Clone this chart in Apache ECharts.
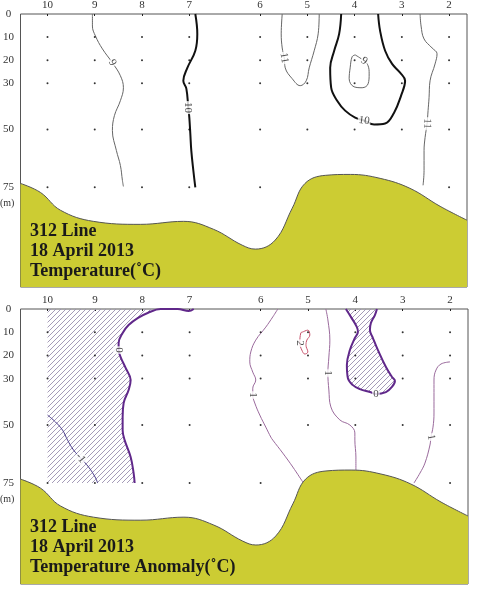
<!DOCTYPE html>
<html><head><meta charset="utf-8">
<script src="https://cdn.jsdelivr.net/npm/echarts@6/dist/echarts.min.js"></script>
<style>html,body{margin:0;padding:0;background:#fff}#c{width:484px;height:601px}</style>
</head><body><div id="c"></div>
<script>
// ---------- data ----------
const stationNames = ['10','9','8','7','6','5','4','3','2'];
const stationX = [0,1,2,3,4.5,5.5,6.5,7.5,8.5];
const depthTicks = [0,10,20,30,50,75];
const sampleDepths = [10,20,30,50,75];
const sampleMaxDepth = [75,75,75,75,75,50,50,50,75];

// bottom topography [distance, depth m]
const seabed = [[-0.571,73.3],[-0.148,77.2],[0.275,84.9],[0.97,89.7],[1.97,91],[2.88,89.7],[3.51,93.1],[4.12,100],[4.40,101.7],[4.82,97.8],[5.18,84],[5.45,73.3],[5.88,69.8],[6.41,69.4],[7.04,71.1],[7.67,75.4],[8.31,83.2],[8.879,89.2]];

// temperature contours
const temp9West = [[0.951,0],[0.951,5.2],[1.015,9.5],[1.163,15.1],[1.374,21.1],[1.543,26.7],[1.607,31.9],[1.543,37.5],[1.416,44.0],[1.374,50.4],[1.459,59.1],[1.543,65.5],[1.586,72.0],[1.607,74.6]];
const temp10West = [[3.129,0],[3.171,8.6],[3.129,15.9],[2.960,23.3],[2.875,28.9],[2.939,32.3],[2.981,40.5],[3.002,44.8],[3.023,51.7],[3.044,59.1],[3.087,67.7],[3.129,75.0]];
const temp11Mid = [[4.968,0],[4.947,8.6],[4.968,14.7],[5.011,19.0],[5.032,23.3],[5.180,28.0],[5.349,31.0],[5.476,28.9],[5.539,23.3],[5.645,15.9],[5.729,8.6],[5.751,0]];
const temp10East = [[6.216,0],[6.173,8.6],[6.068,15.9],[5.983,23.3],[6.004,31.9],[6.131,37.5],[6.300,41.8],[6.512,44.8],[6.702,46.1],[6.913,47.8],[7.146,47.4],[7.336,42.7],[7.484,35.3],[7.569,28.9],[7.463,25.4],[7.294,21.6],[7.146,15.9],[7.040,7.3],[6.998,0]];
const temp9Core = [[6.512,17.7],[6.702,20.3],[6.786,22.4],[6.808,25.9],[6.786,30.2],[6.660,31.9],[6.490,31.5],[6.385,28.0],[6.406,23.3],[6.448,18.5],[6.512,17.7]];
const temp11East = [[7.886,0],[7.907,5.2],[7.970,10.8],[8.140,14.7],[8.245,17.2],[8.203,21.6],[8.097,28.9],[8.076,36.2],[8.055,41.8],[8.034,47.4],[7.992,53.4],[7.970,59.1],[7.970,67.7],[7.949,74.1]];
const tempLabels = [
  ['9',1.374,21.1,-60],['10',2.981,40.5,-90],['11',5.011,19.0,-80],
  ['9',6.702,20.3,-35],['10',6.702,46.1,-8],['11',8.034,47.4,-92]
];

// anomaly contours
const anom0West = [[3.087,0],[2.981,0.9],[2.748,0],[2.389,0],[2.114,1.7],[1.903,3.9],[1.712,6.9],[1.586,10.3],[1.501,14.7],[1.501,17.7],[1.543,20.7],[1.649,25.4],[1.755,30.6],[1.712,34.9],[1.607,40.5],[1.586,46.6],[1.586,52.2],[1.628,56.5],[1.755,63.8],[1.818,70.7],[1.839,75.0]];
const anomM1 = [[0,45.7],[0.169,48.7],[0.317,52.2],[0.423,56.5],[0.550,60.8],[0.698,64.2],[0.867,68.1],[1.015,72.8],[1.057,75.0]];
const anom0East = [[6.300,0],[6.406,3.4],[6.533,7.8],[6.554,9.9],[6.490,12.5],[6.385,17.7],[6.321,24.1],[6.342,29.7],[6.448,32.8],[6.596,34.5],[6.808,35.8],[6.934,36.6],[7.146,35.8],[7.273,33.6],[7.336,31.0],[7.273,29.3],[7.146,25.0],[6.977,17.7],[6.871,12.5],[6.808,9.1],[6.829,6.0],[6.913,2.6],[6.956,0]];
const anom1West = [[4.863,0],[4.757,3.4],[4.609,7.8],[4.397,13.4],[4.292,18.5],[4.271,22.8],[4.334,27.2],[4.397,30.6],[4.334,34.1],[4.334,37.1],[4.376,40.5],[4.482,45.7],[4.609,50.9],[4.715,55.2],[4.757,56.5],[4.968,62.1],[5.180,68.1],[5.391,74.6]];
const anom1Mid = [[5.877,0],[5.920,4.7],[5.962,13.4],[5.941,20.7],[5.920,27.6],[5.941,34.9],[5.983,42.2],[6.173,47.8],[6.385,50.0],[6.490,53.4],[6.490,56.5],[6.512,63.8],[6.512,69.4]];
const anom1East = [[8.499,22.8],[8.309,23.7],[8.203,26.3],[8.161,30.6],[8.161,37.9],[8.161,44.8],[8.140,50.9],[8.097,55.2],[8.076,58.6],[7.970,66.4],[7.865,70.7],[7.738,75.0]];
const anom2 = [[5.391,9.9],[5.497,9.1],[5.539,11.2],[5.476,13.4],[5.455,15.5],[5.497,18.5],[5.433,19.4],[5.370,17.7],[5.328,14.7],[5.349,10.3],[5.391,9.9]];
const anomLabels = [
  ['0',1.501,17.7,-90],['-1',0.698,64.2,-50],['2',5.328,14.7,-90],
  ['1',5.920,27.6,-90],['1',4.334,37.1,-90],['0',6.934,36.6,0],['1',8.097,55.2,-80]
];
const titleLines = ['312 Line','18 April 2013'];
const panelTitles = ['Temperature(˚C)','Temperature Anomaly(˚C)'];

// ---------- chart ----------
const serif = '"Liberation Serif","Times New Roman",serif';
const pat = document.createElement('canvas');
pat.width = 5; pat.height = 5;
(function(){const g=pat.getContext('2d');g.strokeStyle='#9b90b0';g.lineWidth=0.9;g.beginPath();
g.moveTo(0,5);g.lineTo(5,0);g.moveTo(-1,1);g.lineTo(1,-1);g.moveTo(4,6);g.lineTo(6,4);g.stroke();})();
const hatchFill = {image: pat, repeat: 'repeat'};

const westHatch = [[0,0]].concat(anom0West.slice(3)).concat([[0,75]]);
const eastHatch = anom0East;

const dots = [];
stationX.forEach((x,i)=>sampleDepths.forEach(d=>{ if(d<=sampleMaxDepth[i]) dots.push([x,d]); }));

const grids = [
  {left:20, right:17, top:13, height:274, show:true, borderColor:'#555', borderWidth:1, backgroundColor:'#fff'},
  {left:20, right:16, top:309, height:275, show:true, borderColor:'#555', borderWidth:1, backgroundColor:'#fff'}
];
function xAx(i){return {type:'value', gridIndex:i, position:'top', min:-0.571, max:8.879,
  axisLine:{show:false}, splitLine:{show:false},
  axisTick:{show:true, inside:true, length:2, customValues:stationX, lineStyle:{color:'#222'}},
  axisLabel:{customValues:stationX, margin:3, fontFamily:serif, fontSize:11, color:'#333',
    formatter:v=>{const k=stationX.findIndex(s=>Math.abs(s-v)<1e-6);return k>=0?stationNames[k]:'';}}};}
function yAx(i,max){return {type:'value', gridIndex:i, inverse:true, min:0, max:max,
  axisLine:{show:false}, splitLine:{show:false}, axisTick:{show:false},
  axisLabel:{customValues:depthTicks, margin:12, align:'center', fontFamily:serif, fontSize:11, color:'#333'}};}

function line(data, gi, color, w, z){return {type:'line', xAxisIndex:gi, yAxisIndex:gi, data, smooth:0.4,
  symbol:'none', lineStyle:{color, width:w}, z:z||3, silent:true, clip:true};}
function labels(arr, gi){return {type:'scatter', xAxisIndex:gi, yAxisIndex:gi, symbolSize:0, z:6, silent:true,
  data:arr.map(a=>({name:a[0], value:[a[1],a[2]], label:{rotate:a[3]}})),
  label:{show:true, position:'inside', formatter:'{b}', fontFamily:serif, fontSize:11, color:'#222',
    backgroundColor:'#fff', padding:[0,1]}};}
function hatch(poly, gi){return {type:'custom', xAxisIndex:gi, yAxisIndex:gi, data:[0], z:2, silent:true, clip:true,
  renderItem:(p,api)=>({type:'polygon', shape:{points:poly.map(q=>api.coord(q))}, style:{fill:hatchFill}})};}
function bed(gi){return {type:'line', xAxisIndex:gi, yAxisIndex:gi, data:seabed, smooth:0.4, symbol:'none',
  lineStyle:{color:'#555', width:1}, areaStyle:{color:'#cccc33', opacity:1, origin:'end'}, z:5, silent:true};}
function dotS(gi){return {type:'scatter', xAxisIndex:gi, yAxisIndex:gi, data:dots, symbolSize:2,
  itemStyle:{color:'#000'}, z:4, silent:true};}

const series = [
  dotS(0),
  line(temp9West,0,'#666',1), line(temp10West,0,'#111',2), line(temp11Mid,0,'#666',1),
  line(temp10East,0,'#111',2), line(temp9Core,0,'#666',1), line(temp11East,0,'#666',1),
  labels(tempLabels,0), bed(0),
  hatch(westHatch,1), hatch(eastHatch,1), dotS(1),
  line(anom0West,1,'#60288a',2), line(anomM1,1,'#4a3c8c',1), line(anom0East,1,'#60288a',2),
  line(anom1West,1,'#9a6a9c',1), line(anom1Mid,1,'#9a6a9c',1), line(anom1East,1,'#9a6a9c',1),
  line(anom2,1,'#c8506a',1), labels(anomLabels,1), bed(1)
];

const graphic = [];
[0,296].forEach((off,pi)=>{
  graphic.push({type:'text', left:0, top:198+off, z:10, style:{text:'(m)', font:'10px '+serif, fill:'#333'}});
  titleLines.concat([panelTitles[pi]]).forEach((t,li)=>{
    graphic.push({type:'text', left:30, top:222+off+li*20, z:10,
      style:{text:t, font:'bold 18px '+serif, fill:'#1a1a1a'}});
  });
});

const chart = echarts.init(document.getElementById('c'), null, {renderer:'canvas'});
chart.setOption({animation:false, backgroundColor:'#fff', grid:grids,
  xAxis:[xAx(0),xAx(1)], yAxis:[yAx(0,118.1),yAx(1,118.5)], series, graphic});
</script></body></html>
